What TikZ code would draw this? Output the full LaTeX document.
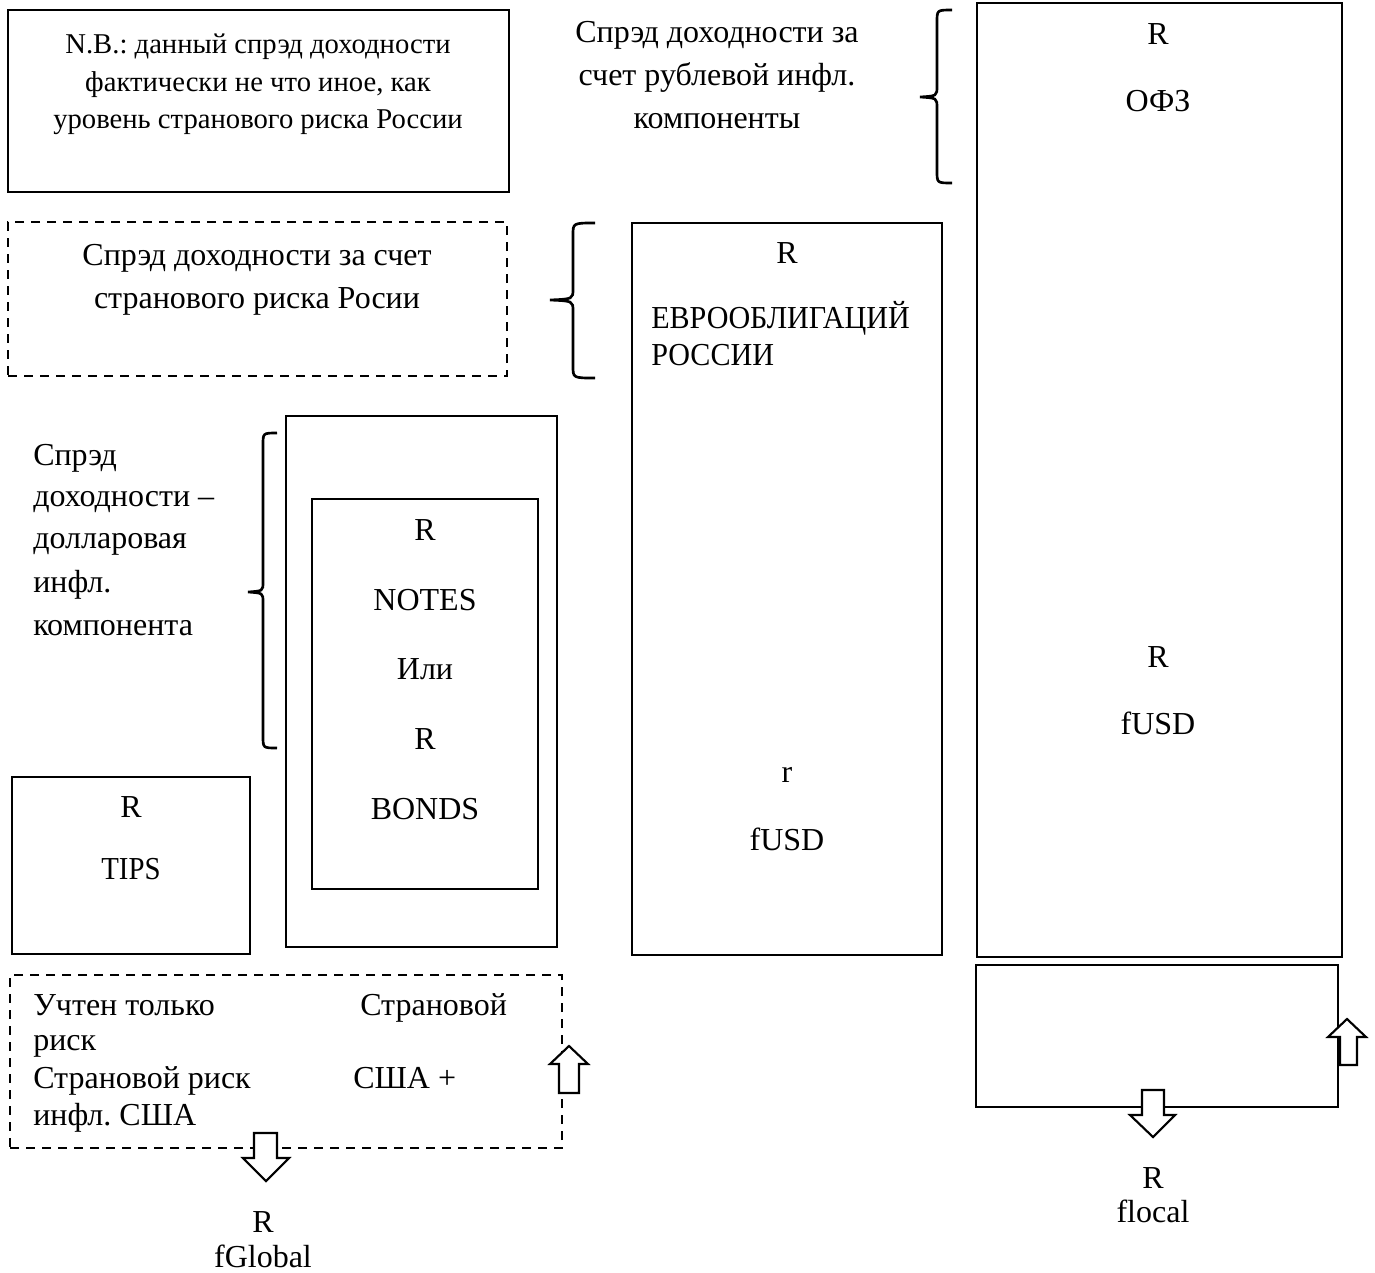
\documentclass[tikz,border=0pt]{standalone}
\usepackage{fontspec}
\setmainfont{Liberation Serif}
\newfontfamily\narrowserif[FakeStretch=0.9]{Liberation Serif}
\newfontfamily\semiserif[FakeStretch=0.94]{Liberation Serif}
\usetikzlibrary{fit}
\frenchspacing
\begin{document}
\begin{tikzpicture}[x=0.75pt,y=-0.75pt,
 box/.style={draw, line width=1.6pt, inner sep=0pt},
 dbox/.style={box, dash pattern=on 7pt off 5pt},
 txt/.style={inner sep=0pt, anchor=base, font=\fontsize{24}{28}\selectfont},
 ltxt/.style={txt, anchor=base west},
 nbtxt/.style={txt, font=\fontsize{21.5}{25}\selectfont},
 brace/.style={draw, line width=2pt},
 barrow/.style={draw, fill=white, line width=1.6pt, line join=miter}]
\useasboundingbox (0,0) rectangle (1375,1272);

% boxes
\node[box, fit={(8,10) (509,192)}] (nb) {};
\node[dbox, fit={(8,222) (507,376)}] (cr) {};
\node[box, fit={(977,3) (1342,957)}] (ofz) {};
\node[box, fit={(976,965) (1338,1107)}] (loc) {};
\node[box, fit={(632,223) (942,955)}] (euro) {};
\node[box, fit={(286,416) (557,947)}] (outer) {};
\node[box, fit={(312,499) (538,889)}] (inner) {};
\node[box, fit={(12,777) (250,954)}] (tips) {};
\node[dbox, fit={(10,975) (562,1148)}] (glob) {};

% braces
\draw[brace] (952,10) .. controls (937,10) .. (937,22) -- (937,86) .. controls (937,96) .. (920,97) .. controls (937,98) .. (937,108) -- (937,171) .. controls (937,183) .. (952,183);
\draw[brace] (595,223) .. controls (573,223) .. (573,235) -- (573,289) .. controls (573,299) .. (550,300) .. controls (573,301) .. (573,311) -- (573,366) .. controls (573,378) .. (595,378);
\draw[brace] (277,433) .. controls (263,433) .. (263,445) -- (263,582) .. controls (263,591) .. (248,592) .. controls (263,593) .. (263,602) -- (263,736) .. controls (263,748) .. (277,748);

% block arrows
\draw[barrow] (559,1093) -- (559,1064) -- (550,1064) -- (569,1046) -- (588,1064) -- (579,1064) -- (579,1093) -- cycle;
\draw[barrow] (254,1133) -- (254,1158) -- (243,1158) -- (266,1181) -- (289,1158) -- (277,1158) -- (277,1133) -- cycle;
\draw[barrow] (1340,1065) -- (1340,1037) -- (1328,1037) -- (1347,1019) -- (1366,1037) -- (1357,1037) -- (1357,1065) -- cycle;
\draw[barrow] (1142,1090) -- (1142,1115) -- (1130,1115) -- (1153,1137) -- (1175,1115) -- (1164,1115) -- (1164,1090) -- cycle;

% N.B. box text
\node[nbtxt] (nb1) at (258,53) {N.B.: данный спрэд доходности};
\node[nbtxt] (nb2) at (258,91) {фактически не что иное, как};
\node[nbtxt] (nb3) at (258,128) {уровень странового риска России};

% top middle text
\node[txt] (rub1) at (717,42) {Спрэд доходности за};
\node[txt] (rub2) at (717,85) {счет рублевой инфл.};
\node[txt] (rub3) at (717,128) {компоненты};

% dashed box text
\node[txt] (cr1) at (257,265) {Спрэд доходности за счет};
\node[txt] (cr2) at (257,308) {странового риска Росии};

% euro box
\node[txt] (eR) at (787,263) {R};
\node[ltxt, font=\fontsize{24}{28}\semiserif] (e1) at (651,328) {ЕВРООБЛИГАЦИЙ};
\node[ltxt, font=\fontsize{24}{28}\semiserif] (e2) at (651,365) {РОССИИ};
\node[txt] (er) at (787,782) {r};
\node[txt] (ef) at (787,850) {fUSD};

% OFZ box
\node[txt] (oR) at (1158,44) {R};
\node[txt] (oO) at (1158,111) {ОФЗ};
\node[txt] (oR2) at (1158,667) {R};
\node[txt] (of) at (1158,734) {fUSD};

% left column text
\node[ltxt] (d1) at (33,465) {Спрэд};
\node[ltxt] (d2) at (33,506) {доходности –};
\node[ltxt] (d3) at (33,548) {долларовая};
\node[ltxt] (d4) at (33,592) {инфл.};
\node[ltxt] (d5) at (33,635) {компонента};

% inner box
\node[txt] (iR) at (425,540) {R};
\node[txt] (iN) at (425,610) {NOTES};
\node[txt] (iI) at (425,679) {Или};
\node[txt] (iR2) at (425,749) {R};
\node[txt] (iB) at (425,819) {BONDS};

% TIPS
\node[txt] (tR) at (131,817) {R};
\node[txt, font=\fontsize{24}{28}\narrowserif] (tT) at (131,879) {TIPS};

% bottom dashed box
\node[ltxt] (g1) at (33,1015) {Учтен только};
\node[ltxt] (g2) at (33,1050) {риск};
\node[ltxt] (g3) at (33,1088) {Страновой риск};
\node[ltxt] (g4) at (33,1125) {инфл. США};
\node[ltxt] (g5) at (360,1015) {Страновой};
\node[ltxt] (g6) at (353,1088) {США +};

% outputs
\node[txt] (fgR) at (263,1232) {R};
\node[txt] (fg) at (263,1267) {fGlobal};
\node[txt] (flR) at (1153,1188) {R};
\node[txt] (fl) at (1153,1222) {flocal};
\end{tikzpicture}
\end{document}
